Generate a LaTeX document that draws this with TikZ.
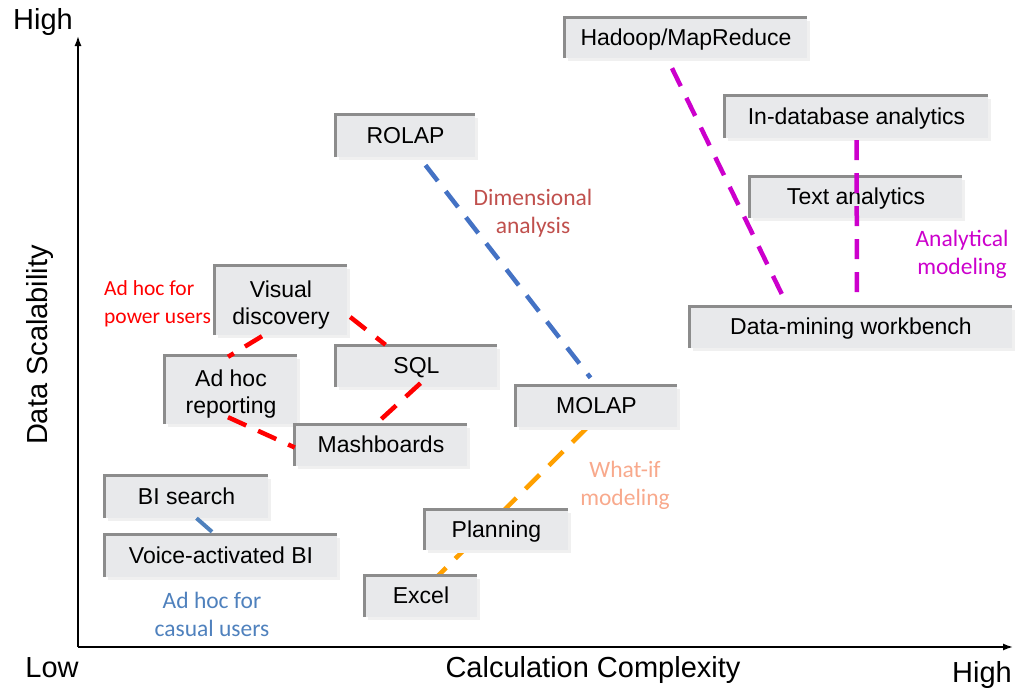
\documentclass[tikz,border=0pt]{standalone}
\usepackage{fontspec}
\setmainfont{Liberation Sans}
\newfontfamily\calib{Carlito}
\usetikzlibrary{arrows.meta,calc,shadows}
\definecolor{boxfill}{HTML}{E8E9EB}
\definecolor{boxedge}{HTML}{8C8C8C}
\definecolor{shadowc}{HTML}{F0F0F0}
\definecolor{dimred}{HTML}{C0504D}
\definecolor{linered}{HTML}{FF0000}
\definecolor{lineblue}{HTML}{4472C4}
\definecolor{magentac}{HTML}{CC00CC}
\definecolor{orangec}{HTML}{FFA000}
\definecolor{salmonc}{HTML}{F8A98C}
\definecolor{casualc}{HTML}{4F81BD}
\pgfdeclarelayer{background}
\pgfsetlayers{background,main}
\newcommand\mybox[6]{%
  \node[box, #6, minimum width=#3pt, minimum height=#4pt] (#1) at (#2) {#5};
  \draw[boxline] (#1.south west) -- (#1.north west) -- (#1.north east);}
\begin{document}
\begin{tikzpicture}[x=1pt,y=-1pt,
  box/.style={fill=boxfill, inner sep=0pt, align=center,
    font=\fontsize{23}{27}\selectfont,
    general shadow={fill=shadowc, shadow xshift=3pt, shadow yshift=-3pt}},
  one/.style={text height=19pt, text depth=5pt},
  two/.style={text height=52pt, text depth=5pt},
  boxline/.style={line width=3pt, boxedge},
  conn/.style={line width=4.5pt, dash pattern=on 20pt off 13pt},
  lab/.style={font=\calib\fontsize{23.5}{28}\selectfont, align=center, inner sep=0pt},
  axlab/.style={font=\fontsize{29}{34}\selectfont, inner sep=0pt},
  axis/.style={line width=1.5pt, -{Latex[length=10pt,width=7pt]}}]
\useasboundingbox (0,0) rectangle (1015,688);
% axes
\coordinate (origin) at (78,647);
\coordinate (ytip) at (78,36);
\coordinate (xtip) at (1013,647);
\draw[axis] (origin) -- (ytip);
\draw[axis] (origin) -- (xtip);
\node[axlab] (yhigh) at (43,22) {High};
\node[axlab, rotate=90] (ylab) at (40,345) {Data Scalability};
\node[axlab] (xlow) at (52,668) {Low};
\node[axlab] (xlab) at (593,670) {Calculation Complexity};
\node[axlab] (xhigh) at (982,675) {High};
% boxes
\mybox{hadoop}{686,38}{242}{40}{Hadoop/MapReduce}{one}
\mybox{rolap}{405.5,136}{139}{42}{ROLAP}{one}
\mybox{indb}{856.5,117}{263}{42}{In-database analytics}{one}
\mybox{texta}{856,197.5}{212}{41}{Text analytics}{one}
\mybox{dmw}{851,327.5}{322}{41}{Data-mining workbench}{one}
\mybox{visual}{281,300.5}{132}{69}{Visual\\discovery}{two}
\mybox{sql}{416.5,366.5}{161}{41}{SQL}{one}
\mybox{adhoc}{231,390}{132}{68}{Ad hoc\\reporting}{two}
\mybox{mash}{381,445.5}{172}{41}{Mashboards}{one}
\mybox{molap}{596.5,406.5}{161}{41}{MOLAP}{one}
\mybox{bisearch}{186.5,497}{163}{42}{BI search}{one}
\mybox{voice}{221,556}{232}{42}{Voice-activated BI}{one}
\mybox{planning}{496.5,530}{143}{40}{Planning}{one}
\mybox{excel}{421,596.5}{112}{41}{Excel}{one}
% connectors
\begin{pgfonlayer}{background}
\draw[conn, orangec] ($(molap.south)+(-10,1)$) -- ($(excel.north)+(17,0)$);
\end{pgfonlayer}
\draw[conn, lineblue] ($(rolap.south)+(20,8)$) -- ($(molap.north)+(-6,-8)$);
\draw[conn, magentac] ($(hadoop.south)+(-14,10)$) -- ($(dmw.north)+(-64,-2)$);
\draw[conn, magentac] ($(indb.south)+(0,2)$) -- ($(dmw.north)+(6,-10)$);
\draw[conn, linered] ($(visual.south)+(-19,1)$) -- ($(adhoc.north)+(-3,1)$);
\draw[conn, linered] ($(visual.east)+(3,16.5)$) -- ($(sql.north)+(-31,-1)$);
\draw[conn, linered] ($(sql.south)+(4,-4)$) -- ($(mash.north)+(-6,0)$);
\draw[conn, linered] ($(adhoc.south)+(-3,-7)$) -- ($(mash.west)+(0,2)$);
\draw[line width=4pt, casualc] ($(bisearch.south)+(10,0)$) -- ($(voice.north)+(-9,-3)$);
% labels
\node[lab, dimred] (ldim) at (533,213) {Dimensional\\analysis};
\node[lab, linered, anchor=west, align=left, font=\calib\fontsize{21.5}{28}\selectfont] (lpower) at (104,304) {Ad hoc for\\power users};
\node[lab, magentac] (lanal) at (962,254) {Analytical\\modeling};
\node[lab, salmonc] (lwhat) at (625,485) {What-if\\modeling};
\node[lab, casualc] (lcasual) at (212,614) {Ad hoc for\\casual users};
\end{tikzpicture}
\end{document}
